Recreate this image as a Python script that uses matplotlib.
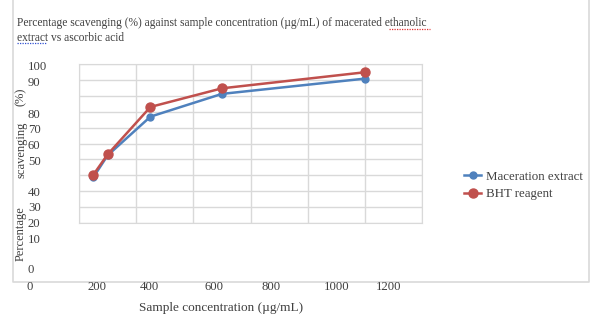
import matplotlib
matplotlib.use("Agg")
import matplotlib.pyplot as plt
from matplotlib.lines import Line2D

# data
conc = [50, 100, 250, 500, 1000]
maceration = [28.7, 42.5, 66.9, 81.2, 90.8]
bht = [30.3, 43.1, 73.0, 84.7, 94.8]

y_labels = ["100", "90", "80", "70", "60", "50", "40", "30", "20", "10", "0"]
x_labels = ["0", "200", "400", "600", "800", "1000", "1200"]

title = ("Percentage scavenging (%) against sample concentration (\u00b5g/mL) of macerated ethanolic\n"
         "extract vs ascorbic acid")
xlabel = "Sample concentration (\u00b5g/mL)"

plt.rcParams['font.family'] = ['Liberation Serif', 'DejaVu Serif']
W, H = 602, 332
txt_col = "#404040"
grid_col = "#D9D9D9"

def fx(px):
    return px / W

def fy(py):
    return 1 - py / H

fig = plt.figure(figsize=(W / 100, H / 100), dpi=100)

# document frame (left, bottom, right edges)
fig.add_artist(Line2D([fx(13), fx(13), fx(589), fx(589)], [1, fy(282), fy(282), 1],
                      transform=fig.transFigure, color=grid_col, lw=1.2))

fig.text(fx(17), fy(30.5), title, fontsize=8.3, color=txt_col, ha="left", va="center",
         linespacing=1.25)
# spell-check underlines
fig.add_artist(Line2D([fx(389), fx(430)], [fy(29), fy(29)], transform=fig.transFigure,
                      color="#E03030", lw=0.9, ls=(0, (1, 1))))
fig.add_artist(Line2D([fx(17), fx(47)], [fy(43), fy(43)], transform=fig.transFigure,
                      color="#3050D0", lw=0.9, ls=(0, (1, 1))))

ax = fig.add_axes([fx(79), fy(223), fx(343), 159 / H])
ax.plot(conc, maceration, color="#4F81BD", lw=1.8, marker="o", ms=5, label="Maceration extract")
ax.plot(conc, bht, color="#C0504D", lw=1.8, marker="o", ms=6.5, label="BHT reagent")
ax.set_xlim(0, 1200)
ax.set_ylim(0, 100)
ax.set_xticks(range(0, 1201, 200))
ax.set_yticks(range(0, 101, 10))
ax.grid(True, color=grid_col, lw=1)
ax.set_axisbelow(True)
ax.tick_params(length=0, labelbottom=False, labelleft=False)
for s in ax.spines.values():
    s.set_color(grid_col)

# hand-placed axis labels as in the document
y_pos = [67, 83, 115, 130, 146, 162, 193, 208, 224, 240, 270]
for lab, py in zip(y_labels, y_pos):
    fig.text(fx(28), fy(py), lab, fontsize=9.2, color=txt_col, ha="left", va="center")
x_pos = [30, 97, 149, 214, 271, 337, 389]
for lab, px in zip(x_labels, x_pos):
    fig.text(fx(px), fy(287), lab, fontsize=9.2, color=txt_col, ha="center", va="center")

fig.text(fx(139), fy(308), xlabel, fontsize=9.5, color=txt_col, ha="left", va="center")
for part, py in [("(%)", 97), ("scavenging", 150), ("Percentage", 234)]:
    fig.text(fx(21), fy(py), part, fontsize=9, color=txt_col, rotation=90,
             ha="center", va="center")

ax.legend(loc="upper left", bbox_to_anchor=(fx(458), fy(164)), bbox_transform=fig.transFigure,
          frameon=False, fontsize=9.3, handlelength=1.3, handletextpad=0.4,
          labelspacing=0.45, borderpad=0, labelcolor=txt_col)

fig.savefig("out.png", dpi=100)
